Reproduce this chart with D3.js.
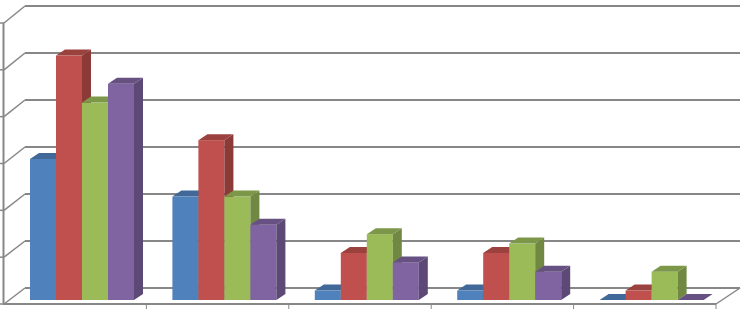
<!DOCTYPE html>
<meta charset="utf-8">
<script src="https://d3js.org/d3.v7.min.js"></script>
<style>
  body { margin: 0; background: #fff; }
</style>
<svg id="chart" width="745" height="309"></svg>
<script>

  // data
  var categories = ["A", "B", "C", "D", "E"];
  var seriesNames = ["S1", "S2", "S3", "S4"];
  var colors = ["#4F81BD", "#C0504D", "#9BBB59", "#8064A2"];
  var s1 = [15, 11, 1, 1, 0];
  var s2 = [26, 17, 5, 5, 1];
  var s3 = [21, 11, 7, 6, 3];
  var s4 = [23, 8, 4, 3, 0];
  var ticks = [0, 5, 10, 15, 20, 25, 30];

  var series = [s1, s2, s3, s4];

  var svg = d3.select("#chart");

  // 3d offsets
  var wallDx = 22, wallDy = -16;   // back wall vs front axis
  var barDx = 9, barDy = -6;        // column depth

  // scales
  var x = d3.scaleBand().domain(categories).range([4, 716]);
  var xs = d3.scaleBand().domain(seriesNames).range([26, 130]);
  var yBack = d3.scaleLinear().domain([0, 30]).range([288, 6]);
  var yFront = d3.scaleLinear().domain([0, 30]).range([304, 23]);
  var yBar = d3.scaleLinear().domain([0, 30]).range([300, 18]);

  var grid = "#878787";

  // back wall gridlines
  svg.append("g").selectAll("line")
    .data(ticks)
    .enter().append("line")
    .attr("x1", 4 + wallDx - 1).attr("x2", 740)
    .attr("y1", function(d) { return yBack(d); })
    .attr("y2", function(d) { return yBack(d); })
    .attr("stroke", grid).attr("stroke-width", 2);

  // side wall diagonals
  svg.append("g").selectAll("line")
    .data(ticks)
    .enter().append("line")
    .attr("x1", 4).attr("x2", 4 + wallDx - 1)
    .attr("y1", function(d) { return yFront(d); })
    .attr("y2", function(d) { return yBack(d); })
    .attr("stroke", grid).attr("stroke-width", 1.5);

  // vertical axis + ticks
  svg.append("line")
    .attr("x1", 3.5).attr("x2", 3.5)
    .attr("y1", yFront(30)).attr("y2", yFront(0))
    .attr("stroke", grid).attr("stroke-width", 2);
  svg.append("g").selectAll("line")
    .data(ticks)
    .enter().append("line")
    .attr("x1", 0).attr("x2", 4)
    .attr("y1", function(d) { return yFront(d); })
    .attr("y2", function(d) { return yFront(d); })
    .attr("stroke", grid).attr("stroke-width", 1.5);

  // floor edges
  svg.append("line")
    .attr("x1", 3).attr("x2", 716)
    .attr("y1", 304).attr("y2", 304)
    .attr("stroke", grid).attr("stroke-width", 2);
  svg.append("line")
    .attr("x1", 740).attr("x2", 716)
    .attr("y1", 288).attr("y2", 304)
    .attr("stroke", grid).attr("stroke-width", 1.5);

  // category ticks
  svg.append("g").selectAll("line")
    .data(categories)
    .enter().append("line")
    .attr("x1", function(d) { return x(d) + x.bandwidth(); })
    .attr("x2", function(d) { return x(d) + x.bandwidth(); })
    .attr("y1", 304).attr("y2", 309)
    .attr("stroke", grid).attr("stroke-width", 1);

  // columns
  var bars = [];
  categories.forEach(function(c, i) {
    seriesNames.forEach(function(s, j) {
      bars.push({ cat: c, ser: s, value: series[j][i], color: colors[j] });
    });
  });

  var w = xs.bandwidth();
  var g = svg.append("g");

  bars.forEach(function(b) {
    var x0 = x(b.cat) + xs(b.ser);
    var y0 = yBar(b.value);
    var base = yBar(0);
    var col = d3.color(b.color);

    if (b.value > 0) {
      g.append("rect")
        .attr("x", x0).attr("y", y0)
        .attr("width", w).attr("height", base - y0)
        .attr("fill", col.formatHex());
      g.append("path")
        .attr("d", "M" + (x0 + w) + "," + y0 +
             "L" + (x0 + w + barDx) + "," + (y0 + barDy) +
             "L" + (x0 + w + barDx) + "," + (base + barDy) +
             "L" + (x0 + w) + "," + base + "Z")
        .attr("fill", col.darker(0.9).formatHex());
    }
    g.append("path")
      .attr("d", "M" + x0 + "," + y0 +
           "L" + (x0 + w) + "," + y0 +
           "L" + (x0 + w + barDx) + "," + (y0 + barDy) +
           "L" + (x0 + barDx) + "," + (y0 + barDy) + "Z")
      .attr("fill", col.darker(0.6).formatHex());
  });

</script>
